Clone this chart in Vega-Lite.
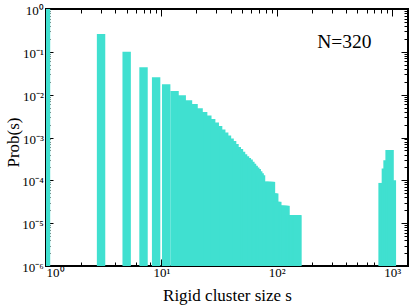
{
  "$schema": "https://vega.github.io/schema/vega-lite/v6.json",
  "width": 362,
  "height": 257,
  "autosize": "none",
  "padding": {"left": 46, "top": 9, "right": 7, "bottom": 40},
  "background": "white",
  "config": {
    "view": {"stroke": "black", "strokeWidth": 2},
    "axis": {
      "labelFont": "Liberation Serif",
      "titleFont": "Liberation Serif",
      "labelColor": "black",
      "titleColor": "black",
      "tickColor": "black",
      "tickWidth": 1,
      "domain": false,
      "grid": false,
      "titleFontWeight": "normal",
      "labelFlush": false,
      "labelOverlap": false
    }
  },
  "datasets": {
    "hist": [
      {"s": 1, "p": 1},
      {"s": 3, "p": 0.26},
      {"s": 5, "p": 0.1},
      {"s": 7, "p": 0.0434},
      {"s": 9, "p": 0.0254},
      {"s": 11, "p": 0.0174},
      {"s": 13, "p": 0.0121},
      {"s": 15, "p": 0.00963},
      {"s": 17, "p": 0.00736},
      {"s": 19, "p": 0.00603},
      {"s": 21, "p": 0.00479},
      {"s": 23, "p": 0.00392},
      {"s": 25, "p": 0.00328},
      {"s": 27, "p": 0.00269},
      {"s": 29, "p": 0.00225},
      {"s": 31, "p": 0.00185},
      {"s": 33, "p": 0.00153},
      {"s": 35, "p": 0.0013},
      {"s": 37, "p": 0.00111},
      {"s": 39, "p": 0.000942},
      {"s": 41, "p": 0.000824},
      {"s": 43, "p": 0.000701},
      {"s": 45, "p": 0.000597},
      {"s": 47, "p": 0.000536},
      {"s": 49, "p": 0.000463},
      {"s": 51, "p": 0.000409},
      {"s": 53, "p": 0.000367},
      {"s": 55, "p": 0.00033},
      {"s": 57, "p": 0.000305},
      {"s": 59, "p": 0.00027},
      {"s": 61, "p": 0.000245},
      {"s": 63, "p": 0.00022},
      {"s": 65, "p": 0.0002},
      {"s": 67, "p": 0.000183},
      {"s": 69, "p": 0.000164},
      {"s": 71, "p": 0.000147},
      {"s": 73, "p": 0.000132},
      {"s": 75, "p": 0.0000922},
      {"s": 77, "p": 0.0000922},
      {"s": 79, "p": 0.0000922},
      {"s": 81, "p": 0.0000922},
      {"s": 83, "p": 0.0000922},
      {"s": 85, "p": 0.0000922},
      {"s": 87, "p": 0.0000922},
      {"s": 89, "p": 0.0000922},
      {"s": 91, "p": 0.0000494},
      {"s": 93, "p": 0.0000494},
      {"s": 95, "p": 0.0000494},
      {"s": 97, "p": 0.0000315},
      {"s": 99, "p": 0.0000315},
      {"s": 101, "p": 0.0000315},
      {"s": 103, "p": 0.0000254},
      {"s": 105, "p": 0.0000254},
      {"s": 107, "p": 0.0000254},
      {"s": 109, "p": 0.0000254},
      {"s": 111, "p": 0.0000254},
      {"s": 113, "p": 0.0000254},
      {"s": 115, "p": 0.0000254},
      {"s": 117, "p": 0.0000254},
      {"s": 119, "p": 0.0000254},
      {"s": 121, "p": 0.0000154},
      {"s": 123, "p": 0.0000154},
      {"s": 125, "p": 0.0000154},
      {"s": 127, "p": 0.0000154},
      {"s": 129, "p": 0.0000154},
      {"s": 131, "p": 0.0000154},
      {"s": 133, "p": 0.0000154},
      {"s": 135, "p": 0.0000154},
      {"s": 137, "p": 0.0000154},
      {"s": 139, "p": 0.0000154},
      {"s": 141, "p": 0.0000154},
      {"s": 143, "p": 0.0000154},
      {"s": 145, "p": 0.0000154},
      {"s": 147, "p": 0.0000154},
      {"s": 149, "p": 0.0000154},
      {"s": 151, "p": 0.0000154},
      {"s": 825, "p": 0.000087},
      {"s": 881, "p": 0.00019},
      {"s": 911, "p": 0.000296},
      {"s": 949, "p": 0.000508},
      {"s": 993, "p": 0.000101}
    ],
    "note": [{"s": 224, "p": 0.121, "t": "N=320"}]
  },
  "layer": [
    {
      "data": {"name": "hist"},
      "mark": {"type": "bar", "size": 8.4, "color": "#40E0D0", "clip": true},
      "encoding": {
        "x": {
          "field": "s", "type": "quantitative",
          "scale": {"type": "log", "domain": [1, 1370], "nice": false, "padding": 0},
          "axis": {
            "orient": "bottom",
            "values": [1, 10, 100, 1000],
            "tickSize": -7,
            "labelFontSize": 13,
            "labelPadding": 17,
            "labelBaseline": "alphabetic",
            "labelFlush": true,
            "labelExpr": "datum.value == 1 ? '10⁰' : datum.value == 10 ? '10¹' : datum.value == 100 ? '10²' : '10³'",
            "title": "Rigid cluster size s",
            "titleFontSize": 17,
            "titleBaseline": "alphabetic",
            "titleY": 34
          }
        },
        "y": {
          "field": "p", "type": "quantitative",
          "scale": {"type": "log", "domain": [0.000001, 1], "nice": false, "padding": 0},
          "axis": {
            "orient": "left",
            "values": [0.000001, 0.00001, 0.0001, 0.001, 0.01, 0.1, 1],
            "tickSize": -7,
            "labelFontSize": 13,
            "labelPadding": 9.7,
            "labelBaseline": "alphabetic",
            "labelOffset": 5.5,
            "labelExpr": "['10⁰','10⁻¹','10⁻²','10⁻³','10⁻⁴','10⁻⁵','10⁻⁶'][round(-log(datum.value)/LN10)]",
            "title": "Prob(s)",
            "titleFontSize": 17,
            "titleBaseline": "alphabetic",
            "titleX": -28,
            "titleY": 133
          }
        },
        "y2": {"datum": 0.000001}
      }
    },
    {
      "data": {"name": "hist"},
      "mark": {"type": "point", "opacity": 0},
      "encoding": {
        "x": {
          "field": "s", "type": "quantitative",
          "axis": {
            "orient": "bottom",
            "values": [2,3,4,5,6,7,8,9,20,30,40,50,60,70,80,90,200,300,400,500,600,700,800,900],
            "tickSize": -4, "labels": false, "title": null
          }
        },
        "y": {
          "field": "p", "type": "quantitative",
          "axis": {
            "orient": "left",
            "values": [0.000002,0.000003,0.000004,0.000005,0.000006,0.000007,0.000008,0.000009,0.00002,0.00003,0.00004,0.00005,0.00006,0.00007,0.00008,0.00009,0.0002,0.0003,0.0004,0.0005,0.0006,0.0007,0.0008,0.0009,0.002,0.003,0.004,0.005,0.006,0.007,0.008,0.009,0.02,0.03,0.04,0.05,0.06,0.07,0.08,0.09,0.2,0.3,0.4,0.5,0.6,0.7,0.8,0.9],
            "tickSize": -4, "labels": false, "title": null
          }
        }
      }
    },
    {
      "data": {"name": "hist"},
      "mark": {"type": "point", "opacity": 0},
      "encoding": {
        "x": {
          "field": "s", "type": "quantitative",
          "axis": {
            "orient": "top",
            "values": [1, 10, 100, 1000],
            "tickSize": -7, "labels": false, "title": null
          }
        },
        "y": {
          "field": "p", "type": "quantitative",
          "axis": {
            "orient": "right",
            "values": [0.000001, 0.00001, 0.0001, 0.001, 0.01, 0.1, 1],
            "tickSize": -7, "labels": false, "title": null
          }
        }
      }
    },
    {
      "data": {"name": "hist"},
      "mark": {"type": "point", "opacity": 0},
      "encoding": {
        "x": {
          "field": "s", "type": "quantitative",
          "axis": {
            "orient": "top",
            "values": [2,3,4,5,6,7,8,9,20,30,40,50,60,70,80,90,200,300,400,500,600,700,800,900],
            "tickSize": -4, "labels": false, "title": null
          }
        },
        "y": {
          "field": "p", "type": "quantitative",
          "axis": {
            "orient": "right",
            "values": [0.000002,0.000003,0.000004,0.000005,0.000006,0.000007,0.000008,0.000009,0.00002,0.00003,0.00004,0.00005,0.00006,0.00007,0.00008,0.00009,0.0002,0.0003,0.0004,0.0005,0.0006,0.0007,0.0008,0.0009,0.002,0.003,0.004,0.005,0.006,0.007,0.008,0.009,0.02,0.03,0.04,0.05,0.06,0.07,0.08,0.09,0.2,0.3,0.4,0.5,0.6,0.7,0.8,0.9],
            "tickSize": -4, "labels": false, "title": null
          }
        }
      }
    },
    {
      "data": {"name": "note"},
      "mark": {"type": "text", "align": "left", "baseline": "alphabetic", "font": "Liberation Serif", "fontSize": 19.5, "color": "black"},
      "encoding": {
        "x": {"field": "s", "type": "quantitative", "axis": null},
        "y": {"field": "p", "type": "quantitative", "axis": null},
        "text": {"field": "t"}
      }
    }
  ],
  "resolve": {"axis": {"x": "independent", "y": "independent"}}
}
